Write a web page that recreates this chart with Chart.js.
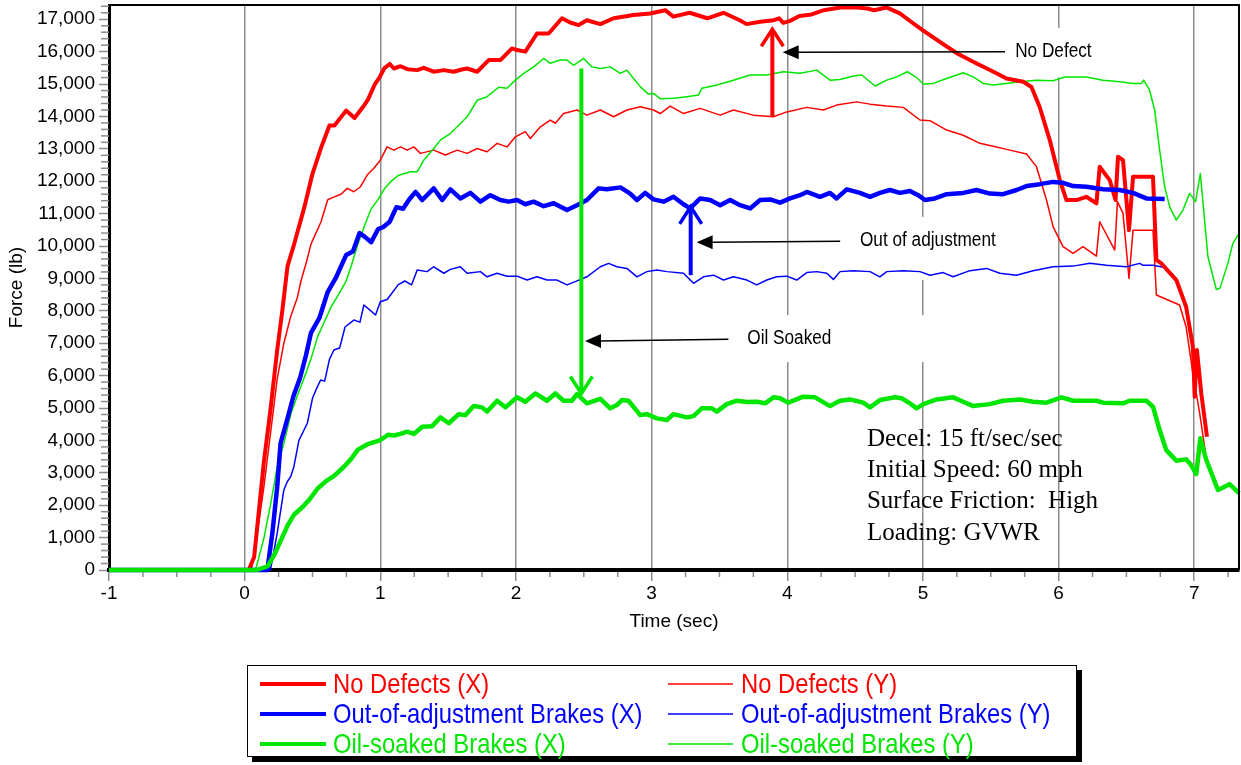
<!DOCTYPE html>
<html><head><meta charset="utf-8">
<script src="https://cdn.jsdelivr.net/npm/chart.js@4.4.0/dist/chart.umd.min.js"></script>
<style>html,body{margin:0;padding:0;background:#fff}#wrap{position:relative;width:1241px;height:765px}</style>
</head><body><div id="wrap"><canvas id="c"></canvas></div>
<script>
// ---- data: [time (sec), force (lb)] ----
const noDefectsX = [[-1,0],[0.03,0],[0.07,400],[0.142,3350],[0.19,4940],[0.24,6790],[0.278,8020],[0.316,9380],[0.365,10060],[0.44,11200],[0.5,12230],[0.563,13030],[0.625,13720],[0.662,13720],[0.748,14180],[0.81,13950],[0.872,14290],[0.909,14520],[0.958,14980],[0.995,15210],[1.03,15490],[1.07,15620],[1.1,15480],[1.149,15550],[1.2,15460],[1.272,15430],[1.32,15500],[1.394,15380],[1.468,15430],[1.541,15380],[1.6,15450],[1.64,15480],[1.714,15380],[1.799,15740],[1.885,15740],[1.971,16100],[2.008,16050],[2.069,16000],[2.155,16560],[2.241,16560],[2.339,17030],[2.4,16900],[2.462,16820],[2.523,16970],[2.622,16850],[2.72,17030],[2.867,17130],[2.99,17180],[3.1,17280],[3.16,17080],[3.28,17200],[3.41,17030],[3.53,17200],[3.65,16970],[3.7,16850],[3.8,16920],[3.9,16970],[3.94,17030],[3.97,16890],[4.02,16950],[4.09,17100],[4.18,17150],[4.27,17280],[4.39,17360],[4.5,17370],[4.59,17330],[4.64,17280],[4.73,17365],[4.83,17180],[4.92,16900],[5.0,16660],[5.125,16300],[5.25,15950],[5.37,15690],[5.52,15380],[5.616,15170],[5.74,15070],[5.8,14910],[5.86,14300],[5.935,13270],[6.009,12035],[6.058,11420],[6.131,11420],[6.205,11520],[6.279,11315],[6.303,12445],[6.377,12035],[6.42,11420],[6.438,12755],[6.475,12650],[6.519,10490],[6.549,12140],[6.696,12140],[6.721,9570],[6.757,9465],[6.868,8950],[6.94,8125],[6.99,6890],[7.003,5350],[7.02,6790],[7.052,5450],[7.094,4110]];
const noDefectsY = [[-1,0],[0.05,0],[0.093,1130],[0.142,2570],[0.19,4200],[0.24,5900],[0.289,7000],[0.339,7820],[0.388,8400],[0.415,8920],[0.455,9500],[0.489,10060],[0.563,10750],[0.612,11430],[0.656,11510],[0.71,11600],[0.756,11780],[0.805,11675],[0.854,11830],[0.903,12190],[0.952,12400],[1.0,12650],[1.05,13060],[1.1,12960],[1.149,13060],[1.198,12960],[1.247,13060],[1.296,12860],[1.394,12960],[1.48,12810],[1.566,12960],[1.64,12860],[1.714,13010],[1.787,12910],[1.861,13170],[1.934,13060],[1.996,13370],[2.069,13530],[2.106,13320],[2.18,13680],[2.253,13890],[2.29,13790],[2.351,14090],[2.45,14200],[2.523,14040],[2.622,14200],[2.72,13990],[2.818,14200],[2.916,14300],[3.014,14200],[3.063,14090],[3.137,14320],[3.235,14090],[3.358,14250],[3.505,14040],[3.603,14200],[3.75,14040],[3.898,13990],[3.996,14140],[4.144,14280],[4.266,14200],[4.364,14350],[4.511,14450],[4.61,14380],[4.733,14320],[4.855,14280],[4.978,13890],[5.052,13870],[5.175,13580],[5.297,13420],[5.42,13170],[5.518,13080],[5.641,12960],[5.764,12840],[5.837,12450],[5.911,11420],[5.96,10590],[6.033,9980],[6.107,9770],[6.18,9980],[6.279,9690],[6.303,10750],[6.414,9875],[6.434,11370],[6.475,11010],[6.519,9000],[6.549,10490],[6.696,10490],[6.721,8490],[6.892,8180],[6.94,7510],[6.99,6070],[7.04,4840],[7.08,3700]];
const outOfAdjX = [[-1,0],[0.167,0],[0.204,1130],[0.24,2570],[0.265,3920],[0.314,4650],[0.36,5370],[0.41,5950],[0.452,6630],[0.489,7320],[0.551,7780],[0.612,8580],[0.674,9030],[0.711,9380],[0.748,9720],[0.798,9830],[0.847,10400],[0.884,10290],[0.933,10120],[0.983,10520],[1.02,10580],[1.069,10750],[1.119,11200],[1.168,11150],[1.21,11420],[1.26,11670],[1.309,11420],[1.394,11780],[1.456,11420],[1.517,11750],[1.59,11470],[1.664,11640],[1.738,11370],[1.811,11570],[1.885,11420],[1.946,11370],[2.008,11420],[2.069,11290],[2.13,11370],[2.204,11230],[2.278,11320],[2.376,11110],[2.45,11260],[2.523,11420],[2.609,11780],[2.671,11750],[2.77,11810],[2.842,11620],[2.892,11420],[2.953,11640],[3.014,11440],[3.088,11370],[3.161,11520],[3.235,11290],[3.284,11160],[3.358,11470],[3.431,11420],[3.505,11260],[3.579,11420],[3.652,11260],[3.726,11160],[3.8,11420],[3.873,11440],[3.947,11340],[4.02,11470],[4.094,11570],[4.144,11670],[4.241,11520],[4.315,11640],[4.364,11470],[4.438,11750],[4.536,11640],[4.61,11520],[4.683,11640],[4.757,11730],[4.83,11640],[4.904,11700],[4.965,11570],[5.015,11420],[5.088,11470],[5.175,11600],[5.297,11640],[5.395,11730],[5.493,11620],[5.591,11600],[5.69,11730],[5.764,11850],[5.862,11910],[5.96,11980],[6.033,11950],[6.107,11850],[6.205,11830],[6.328,11750],[6.45,11730],[6.549,11640],[6.647,11470],[6.782,11450]];
const outOfAdjY = [[-1,0],[0.19,0],[0.24,1140],[0.289,2470],[0.314,2725],[0.339,2880],[0.363,3190],[0.4,4000],[0.462,4530],[0.5,5300],[0.53,5600],[0.56,5865],[0.59,5830],[0.625,6500],[0.658,6790],[0.7,6850],[0.74,7500],[0.805,7715],[0.85,7650],[0.879,8180],[0.93,8000],[0.965,7870],[1.0,8280],[1.05,8350],[1.081,8520],[1.131,8800],[1.18,8920],[1.23,8800],[1.272,9260],[1.345,9210],[1.394,9360],[1.468,9160],[1.517,9280],[1.59,9360],[1.64,9160],[1.738,9210],[1.787,9050],[1.861,9160],[1.934,9070],[2.008,9070],[2.082,8950],[2.155,9050],[2.229,8950],[2.303,8950],[2.376,8800],[2.437,8900],[2.523,9050],[2.622,9360],[2.683,9465],[2.744,9360],[2.818,9310],[2.892,9050],[2.965,9210],[3.039,9260],[3.113,9210],[3.235,9160],[3.309,8850],[3.382,9050],[3.456,9100],[3.53,8950],[3.603,9050],[3.702,8950],[3.775,8800],[3.849,8950],[3.922,9050],[3.996,9070],[4.07,8950],[4.144,9180],[4.217,9210],[4.291,9160],[4.34,8970],[4.389,9210],[4.487,9240],[4.61,9210],[4.683,9050],[4.733,9210],[4.855,9240],[4.978,9210],[5.052,9100],[5.149,9180],[5.223,9050],[5.346,9240],[5.469,9310],[5.567,9160],[5.69,9100],[5.812,9240],[5.96,9360],[6.107,9380],[6.23,9465],[6.353,9410],[6.5,9360],[6.598,9465],[6.62,9410],[6.696,9410],[6.782,9340]];
const oilSoakedX = [[-1,0],[0.09,0],[0.168,114],[0.217,457],[0.267,915],[0.316,1372],[0.365,1715],[0.427,1944],[0.477,2172],[0.538,2515],[0.6,2744],[0.662,2916],[0.736,3202],[0.785,3430],[0.835,3716],[0.909,3888],[0.995,4002],[1.057,4173],[1.1,4150],[1.149,4200],[1.198,4270],[1.247,4200],[1.309,4420],[1.382,4440],[1.443,4710],[1.505,4530],[1.578,4810],[1.627,4780],[1.689,5060],[1.75,5020],[1.787,4890],[1.861,5225],[1.922,5020],[2.008,5330],[2.069,5195],[2.143,5450],[2.229,5225],[2.29,5450],[2.351,5225],[2.413,5225],[2.45,5430],[2.523,5145],[2.622,5285],[2.695,4990],[2.744,5090],[2.781,5245],[2.83,5225],[2.916,4780],[2.965,4810],[3.039,4680],[3.113,4630],[3.161,4810],[3.26,4710],[3.309,4750],[3.37,4990],[3.444,4990],[3.481,4890],[3.554,5120],[3.628,5225],[3.702,5185],[3.775,5195],[3.837,5145],[3.898,5330],[3.947,5300],[4.008,5165],[4.118,5350],[4.205,5330],[4.315,5060],[4.389,5225],[4.462,5265],[4.56,5165],[4.61,5020],[4.683,5245],[4.794,5330],[4.843,5300],[4.904,5145],[4.953,4990],[5.003,5120],[5.101,5265],[5.223,5330],[5.297,5195],[5.371,5060],[5.493,5120],[5.591,5225],[5.714,5265],[5.812,5195],[5.911,5165],[6.021,5330],[6.107,5225],[6.279,5225],[6.328,5165],[6.475,5145],[6.524,5225],[6.647,5225],[6.696,5040],[6.745,4320],[6.794,3700],[6.868,3375],[6.94,3415],[6.977,3240],[7.015,2960],[7.045,4065],[7.089,3395],[7.175,2470],[7.26,2650],[7.33,2370]];
const oilSoakedY = [[-1,0],[0.08,0],[0.143,1000],[0.19,2000],[0.24,3190],[0.289,3910],[0.339,4800],[0.39,5400],[0.44,5946],[0.489,6517],[0.538,7203],[0.588,7661],[0.637,8118],[0.686,8461],[0.748,8919],[0.785,9376],[0.835,10062],[0.884,10634],[0.933,11148],[0.983,11434],[1.032,11777],[1.081,12006],[1.131,12177],[1.18,12240],[1.222,12290],[1.272,12290],[1.32,12650],[1.394,13010],[1.443,13270],[1.517,13480],[1.578,13730],[1.64,13990],[1.714,14500],[1.787,14610],[1.873,14900],[1.934,14870],[1.996,15120],[2.057,15330],[2.13,15530],[2.204,15790],[2.253,15640],[2.327,15740],[2.376,15740],[2.425,15580],[2.499,15790],[2.56,15530],[2.622,15480],[2.695,15530],[2.769,15330],[2.818,15430],[2.867,15170],[2.916,14920],[2.977,14690],[3.014,14710],[3.063,14550],[3.161,14560],[3.26,14610],[3.345,14660],[3.37,14870],[3.481,14970],[3.603,15120],[3.726,15280],[3.849,15280],[3.971,15380],[4.094,15330],[4.217,15430],[4.315,15120],[4.389,15140],[4.487,15250],[4.549,15280],[4.647,14940],[4.733,15120],[4.806,15220],[4.885,15380],[4.953,15200],[5.003,15000],[5.076,15020],[5.175,15170],[5.297,15350],[5.371,15220],[5.444,15020],[5.518,14970],[5.616,15020],[5.714,15070],[5.837,15120],[5.96,15100],[6.046,15220],[6.205,15220],[6.328,15120],[6.45,15070],[6.549,15020],[6.61,15020],[6.627,15120],[6.671,14810],[6.708,14200],[6.745,12960],[6.782,11830],[6.819,11210],[6.868,10800],[6.917,11110],[6.966,11625],[7.01,11370],[7.045,12240],[7.101,9670],[7.163,8660],[7.19,8700],[7.248,9465],[7.285,10080],[7.33,10390]];

const seriesLabels = ['No Defects (X)','No Defects (Y)','Out-of-adjustment Brakes (X)','Out-of-adjustment Brakes (Y)','Oil-soaked Brakes (X)','Oil-soaked Brakes (Y)'];
const xTickValues = [-1,0,1,2,3,4,5,6,7];
const yTickValues = [0,1000,2000,3000,4000,5000,6000,7000,8000,9000,10000,11000,12000,13000,14000,15000,16000,17000];
const xRange = [-1, 7.33];
const yRange = [0, 17440];
const annotationTexts = ['No Defect','Out of adjustment','Oil Soaked'];
const infoLines = ['Decel: 15 ft/sec/sec','Initial Speed: 60 mph','Surface Friction:  High','Loading: GVWR'];

// ---- styles ----
const RED='#ff0000', BLUE='#0000ff', GREEN='#00e600', GRID='#8c8c8c';
const styles = [
  {color:RED, w:4, order:2},{color:RED, w:1.5, order:5},
  {color:BLUE, w:4.5, order:1},{color:BLUE, w:1.5, order:4},
  {color:GREEN, w:4.5, order:0},{color:GREEN, w:1.5, order:3}
];
const seriesData = [noDefectsX, noDefectsY, outOfAdjX, outOfAdjY, oilSoakedX, oilSoakedY];

// annotation geometry in data units (time, force)
const masks = [
  {t0:5.53, t1:6.38, f0:15210, f1:16730},
  {t0:4.46, t1:5.57, f0:8950, f1:10900},
  {t0:3.65, t1:5.09, f0:6420, f1:7870}
];
const colorArrows = [
  {t:3.89, from:13990, to:16690, color:RED},
  {t:3.288, from:9100, to:11210, color:BLUE},
  {t:2.482, from:15480, to:5450, color:GREEN}
];
const pointers = [
  {t0:5.605, f0:16000, t1:3.966, f1:15980},
  {t0:4.39, f0:10150, t1:3.332, f1:10115},
  {t0:3.566, f0:7120, t1:2.509, f1:7070}
];
const labelPos = [{t:5.68, f:16020},{t:4.536, f:10186},{t:3.705, f:7150}];
const infoPos = {t:4.587, f:3827};

function condensedText(ctx, text, x, y, font, ratio, color, baseline){
  ctx.save(); ctx.translate(x, y); ctx.scale(ratio, 1);
  ctx.font = font; ctx.fillStyle = color; ctx.textBaseline = baseline; ctx.textAlign = 'left';
  ctx.fillText(text, 0, 0); ctx.restore();
}

const deco = {
  id: 'deco',
  beforeDatasetsDraw(chart){
    const {ctx, scales:{x, y}} = chart;
    ctx.save(); ctx.fillStyle = '#fff';
    masks.forEach(b => {
      const x1 = x.getPixelForValue(b.t0), x2 = x.getPixelForValue(b.t1);
      const y1 = y.getPixelForValue(b.f1), y2 = y.getPixelForValue(b.f0);
      ctx.fillRect(x1, y1, x2 - x1, y2 - y1);
    });
    ctx.restore();
  },
  afterDraw(chart){
    const {ctx, chartArea:a, scales:{x, y}} = chart;
    ctx.save();
    // top and right frame
    ctx.strokeStyle = '#000'; ctx.lineWidth = 2;
    ctx.beginPath(); ctx.moveTo(a.left, a.top); ctx.lineTo(a.right, a.top); ctx.lineTo(a.right, a.bottom); ctx.stroke();
    // minor ticks
    ctx.strokeStyle = GRID; ctx.lineWidth = 1.5;
    for (let v = xRange[0]; v <= xRange[1] + 1e-9; v += 0.25) {
      if (Math.abs(v - Math.round(v)) < 1e-6) continue;
      const px = x.getPixelForValue(v);
      ctx.beginPath(); ctx.moveTo(px, a.bottom + 2); ctx.lineTo(px, a.bottom + 7); ctx.stroke();
    }
    for (let v = 200; v <= yRange[1]; v += 200) {
      if (v % 1000 === 0) continue;
      const py = y.getPixelForValue(v);
      ctx.beginPath(); ctx.moveTo(a.left - 8, py); ctx.lineTo(a.left, py); ctx.stroke();
    }
    // coloured arrows (open heads)
    colorArrows.forEach(ar => {
      const px = x.getPixelForValue(ar.t), p0 = y.getPixelForValue(ar.from), p1 = y.getPixelForValue(ar.to);
      const dir = p0 > p1 ? 1 : -1;
      ctx.strokeStyle = ar.color; ctx.lineWidth = 4; ctx.lineCap = 'butt';
      ctx.beginPath(); ctx.moveTo(px, p0); ctx.lineTo(px, p1); ctx.stroke();
      ctx.lineWidth = 3.5;
      ctx.beginPath(); ctx.moveTo(px - 11, p1 + dir * 17); ctx.lineTo(px, p1); ctx.lineTo(px + 11, p1 + dir * 17); ctx.stroke();
    });
    // black pointers
    pointers.forEach(p => {
      const x0 = x.getPixelForValue(p.t0), y0 = y.getPixelForValue(p.f0);
      const x1 = x.getPixelForValue(p.t1), y1 = y.getPixelForValue(p.f1);
      ctx.strokeStyle = '#000'; ctx.lineWidth = 1.5;
      ctx.beginPath(); ctx.moveTo(x0, y0); ctx.lineTo(x1 + 14, y1); ctx.stroke();
      ctx.fillStyle = '#000';
      ctx.beginPath(); ctx.moveTo(x1, y1); ctx.lineTo(x1 + 16, y1 - 7); ctx.lineTo(x1 + 16, y1 + 7); ctx.closePath(); ctx.fill();
    });
    // annotation labels
    annotationTexts.forEach((t, i) => {
      condensedText(ctx, t, x.getPixelForValue(labelPos[i].t), y.getPixelForValue(labelPos[i].f), '20px "Liberation Sans", Arial, sans-serif', 0.86, '#000', 'middle');
    });
    // info text
    ctx.fillStyle = '#000'; ctx.font = '25px "Liberation Serif", "Times New Roman", serif';
    ctx.textBaseline = 'alphabetic'; ctx.textAlign = 'left';
    const ix = x.getPixelForValue(infoPos.t), iy = y.getPixelForValue(infoPos.f);
    infoLines.forEach((l, i) => ctx.fillText(l, ix, iy + i * 31.2));
    // legend
    const L = {x:247, y:665, w:830, h:92};
    ctx.fillStyle = '#000'; ctx.fillRect(L.x + 5, L.y + 5, L.w, L.h);
    ctx.fillStyle = '#fff'; ctx.fillRect(L.x, L.y, L.w, L.h);
    ctx.strokeStyle = '#000'; ctx.lineWidth = 1; ctx.strokeRect(L.x + 0.5, L.y + 0.5, L.w - 1, L.h - 1);
    const cols = [{lx0:260, lx1:326, tx:333},{lx0:668, lx1:733, tx:741}];
    const rows = [684, 714, 744];
    seriesLabels.forEach((lab, i) => {
      const c = cols[i % 2], r = rows[Math.floor(i / 2)], st = styles[i];
      ctx.strokeStyle = st.color; ctx.lineWidth = st.w > 3 ? 4 : 1.5; ctx.lineCap = 'butt';
      ctx.beginPath(); ctx.moveTo(c.lx0, r); ctx.lineTo(c.lx1, r); ctx.stroke();
      condensedText(ctx, lab, c.tx, r + 1, '28px "Liberation Sans", Arial, sans-serif', 0.85, st.color, 'middle');
    });
    ctx.restore();
  }
};

const datasets = seriesData.map((s, i) => ({
  label: seriesLabels[i],
  data: s.map(p => ({x: p[0], y: p[1]})),
  borderColor: styles[i].color,
  borderWidth: styles[i].w,
  order: styles[i].order,
  pointRadius: 0, fill: false, tension: 0, clip: false,
  borderJoinStyle: 'round'
}));

Chart.defaults.font.family = '"Liberation Sans", Arial, sans-serif';
Chart.defaults.color = '#000';

new Chart(document.getElementById('c'), {
  type: 'line',
  data: { datasets },
  options: {
    responsive: true, maintainAspectRatio: false, animation: false,
    layout: { padding: {left: 0, top: 5, right: 2, bottom: 125} },
    plugins: { legend: {display: false}, tooltip: {enabled: false} },
    scales: {
      x: {
        type: 'linear', min: xRange[0], max: xRange[1],
        afterBuildTicks: s => { s.ticks = xTickValues.map(v => ({value: v})); },
        afterFit: s => { s.height = 70; s.paddingLeft = 0; s.paddingRight = 0; },
        ticks: { autoSkip: false, maxRotation: 0, padding: 1, font: {size: 19}, callback: v => String(v) },
        grid: { color: GRID, lineWidth: 1.5, drawOnChartArea: true, drawTicks: true, tickLength: 11, tickColor: GRID, tickWidth: 1.5 },
        border: { display: true, color: '#000', width: 4 },
        title: { display: true, text: 'Time (sec)', font: {size: 19}, padding: {top: 0, bottom: 7} }
      },
      y: {
        type: 'linear', min: yRange[0], max: yRange[1],
        afterBuildTicks: s => { s.ticks = yTickValues.map(v => ({value: v})); },
        afterFit: s => { s.width = 109; s.paddingTop = 0; s.paddingBottom = 0; },
        ticks: { autoSkip: false, padding: 4, font: {size: 19}, callback: v => Number(v).toLocaleString('en-US') },
        grid: { drawOnChartArea: false, drawTicks: true, tickLength: 10, tickColor: GRID, tickWidth: 1.5 },
        border: { display: true, color: '#000', width: 3 },
        title: { display: true, text: 'Force (lb)', font: {size: 19}, padding: {top: 5, bottom: 0} }
      }
    }
  },
  plugins: [deco]
});
</script></body></html>
